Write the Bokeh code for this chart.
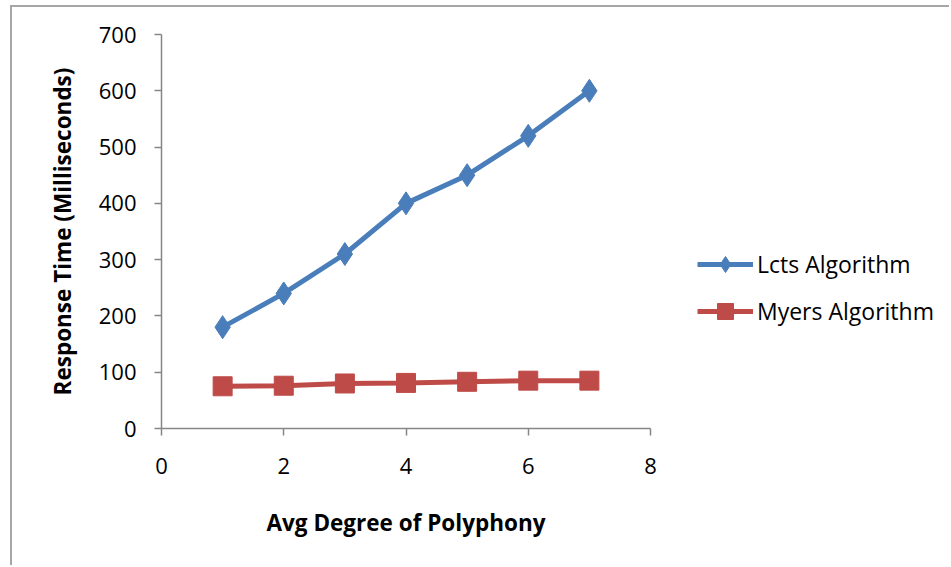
import math
from bokeh.plotting import figure
from bokeh.models import Legend, LegendItem, Range1d, FixedTicker
from bokeh.core.properties import value
from bokeh.embed import file_html
from bokeh.resources import INLINE

degree = [1, 2, 3, 4, 5, 6, 7]
lcts = [180, 240, 310, 400, 450, 520, 600]
myers = [75, 76, 80, 81, 83, 85, 85]
x_ticks = [0, 2, 4, 6, 8]
y_ticks = [0, 100, 200, 300, 400, 500, 600, 700]
x_title = "Avg Degree of Polyphony"
y_title = "Response Time (Milliseconds)"

BLUE = "#4a7ebb"
RED = "#be4b48"
AXIS = "#868686"
FONT = "Open Sans"

# The frame covers the whole canvas so that legend and titles are not clipped;
# axes sit at x=0 / y=0 and are bounded to the real chart area.
PLOT_W, PLOT_H = 489, 394      # pixel size of the 0..8 x 0..700 area
LEFT, TOP = 149, 27            # pixel offset of the chart area in the frame
CW, CH = 939, 560
p = figure(width=CW, height=CH, output_backend="svg", toolbar_location=None,
           x_range=Range1d(-8 * LEFT / PLOT_W, 8 * (CW - LEFT) / PLOT_W),
           y_range=Range1d(-700 * (CH - TOP - PLOT_H) / PLOT_H, 700 * (1 + TOP / PLOT_H)),
           min_border_left=0, min_border_right=0,
           min_border_top=0, min_border_bottom=0)
p.styles = {"margin-left": "10px", "margin-top": "5px",
            "border-left": "2px solid #a6a6a6", "border-top": "2px solid #a6a6a6"}
p.outline_line_color = None
p.xgrid.visible = False
p.ygrid.visible = False

for ax, ticks in ((p.xaxis[0], x_ticks), (p.yaxis[0], y_ticks)):
    ax.ticker = FixedTicker(ticks=ticks)
    ax.axis_line_color = AXIS
    ax.axis_line_width = 1.5
    ax.major_tick_line_color = AXIS
    ax.major_tick_line_width = 1.5
    ax.major_tick_out = 7
    ax.major_tick_in = 0
    ax.minor_tick_line_color = None
    ax.major_label_text_font = FONT
    ax.major_label_text_font_size = "22px"
    ax.major_label_text_color = "black"

p.xaxis.bounds = (0, 8)
p.yaxis.bounds = (0, 700)
p.xaxis.fixed_location = 0
p.yaxis.fixed_location = 0
p.xaxis.major_label_standoff = 22
p.yaxis.major_label_standoff = 18

title_style = dict(text_color="black", text_font=value(FONT),
                   text_font_size="22.5px", text_font_style="bold",
                   text_align="center", text_baseline="middle")
p.text(x=[4], y=[0], text=[x_title], y_offset=94, **title_style)
p.text(x=[0], y=[350], text=[y_title], x_offset=-99, angle=math.pi / 2, **title_style)

l1 = p.line(degree, lcts, line_color=BLUE, line_width=5)
m1 = p.scatter(degree, lcts, marker="diamond", size=23, fill_color=BLUE, line_color=BLUE)
l2 = p.line(degree, myers, line_color=RED, line_width=5)
m2 = p.scatter(degree, myers, marker="square", size=19, fill_color=RED, line_color=RED)

legend = Legend(items=[LegendItem(label="Lcts Algorithm", renderers=[l1, m1]),
                       LegendItem(label="Myers Algorithm", renderers=[l2, m2])],
                location=(LEFT + 536, 97 + CH - TOP - PLOT_H))
legend.border_line_color = None
legend.background_fill_alpha = 0
legend.label_text_font = FONT
legend.label_text_font_size = "23px"
legend.label_text_color = "black"
legend.glyph_width = 56
legend.glyph_height = 40
legend.spacing = 7
legend.label_standoff = 4
legend.padding = 0
legend.margin = 0
p.add_layout(legend, "center")

open("out.html", "w").write(file_html(p, INLINE))
